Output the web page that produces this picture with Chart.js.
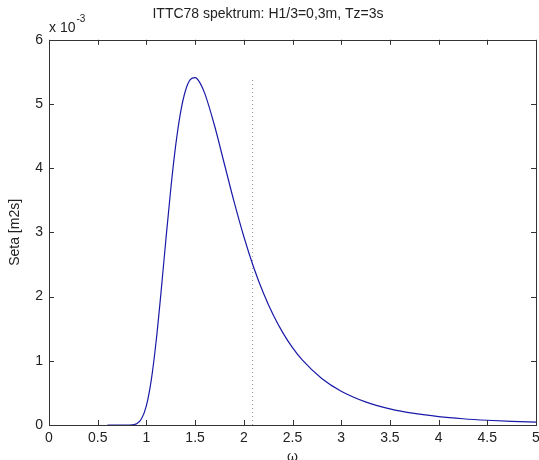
<!DOCTYPE html>
<html>
<head>
<meta charset="utf-8">
<script src="https://cdn.jsdelivr.net/npm/chart.js@4.4.1/dist/chart.umd.min.js"></script>
<style>
  html, body { margin: 0; padding: 0; background: #fff; }
  #wrap { width: 539px; height: 460px; }
</style>
</head>
<body>
<div id="wrap"><canvas id="c" width="539" height="460"></canvas></div>
<script>
/* ─── Data ─── */
const omega = [0.6, 0.7, 0.8, 0.85, 0.9, 0.95, 1.0, 1.05, 1.1, 1.15, 1.2, 1.25, 1.3, 1.35, 1.4, 1.45, 1.5,
  1.55, 1.6, 1.7, 1.8, 1.9, 2.0, 2.1, 2.2, 2.3, 2.4, 2.5, 2.6, 2.8, 3.0, 3.25, 3.5, 3.75, 4.0, 4.25, 4.5, 4.75, 5.0];
// spectral density, units of 1e-3 m2s
const seta = [0, 0, 0.0001, 0.003, 0.021, 0.097, 0.302, 0.700, 1.305, 2.065, 2.887, 3.673, 4.347, 4.862, 5.202, 5.379, 5.411,
  5.330, 5.161, 4.661, 4.069, 3.478, 2.936, 2.462, 2.059, 1.720, 1.439, 1.206, 1.014, 0.725, 0.526, 0.360, 0.252, 0.180, 0.131, 0.0975, 0.0736, 0.0563, 0.0437];
const markerX = [2.09, 2.09];
const markerY = [0, 5.42];
const xTicks = [0, 0.5, 1, 1.5, 2, 2.5, 3, 3.5, 4, 4.5, 5];
const yTicks = [0, 1, 2, 3, 4, 5, 6];

const FONT = "'Liberation Sans', Arial, sans-serif";
const TXT = "#222";

/* ─── Box, inward ticks, exponent label ─── */
const matlabAxes = {
  id: "matlabAxes",
  afterDatasetsDraw(chart) {
    const { ctx, chartArea: a, scales } = chart;
    ctx.save();
    ctx.strokeStyle = "#333";
    ctx.lineWidth = 1;
    ctx.strokeRect(Math.round(a.left) + 0.5, Math.round(a.top) + 0.5,
      Math.round(a.right - a.left), Math.round(a.bottom - a.top));
    const tl = 5;
    ctx.beginPath();
    xTicks.forEach((v) => {
      const px = Math.round(scales.x.getPixelForValue(v)) + 0.5;
      ctx.moveTo(px, a.bottom); ctx.lineTo(px, a.bottom - tl);
      ctx.moveTo(px, a.top); ctx.lineTo(px, a.top + tl);
    });
    yTicks.forEach((v) => {
      const py = Math.round(scales.y.getPixelForValue(v)) + 0.5;
      ctx.moveTo(a.left, py); ctx.lineTo(a.left + tl, py);
      ctx.moveTo(a.right, py); ctx.lineTo(a.right - tl, py);
    });
    ctx.stroke();

    // "x 10^-3" multiplier
    ctx.fillStyle = TXT;
    ctx.textBaseline = "alphabetic";
    ctx.textAlign = "left";
    ctx.font = `14px ${FONT}`;
    ctx.fillText("x 10", a.left, a.top - 8);
    const w = ctx.measureText("x 10").width;
    ctx.font = `10px ${FONT}`;
    ctx.fillText("-3", a.left + w + 1, a.top - 18);
    ctx.restore();
  },
};

new Chart(document.getElementById("c").getContext("2d"), {
  type: "line",
  data: {
    datasets: [
      {
        label: "Seta",
        data: omega.map((x, i) => ({ x, y: seta[i] })),
        borderColor: "#1a1aa8",
        borderWidth: 1.2,
        pointRadius: 0,
        cubicInterpolationMode: "monotone",
        fill: false,
      },
      {
        label: "Tz",
        data: markerX.map((x, i) => ({ x, y: markerY[i] })),
        borderColor: "#999",
        borderWidth: 1,
        borderDash: [1, 3],
        pointRadius: 0,
        fill: false,
      },
    ],
  },
  options: {
    responsive: false,
    animation: false,
    layout: { padding: { left: 0, top: 0, right: 3, bottom: 0 } },
    plugins: {
      legend: { display: false },
      tooltip: { enabled: false },
      title: {
        display: true,
        text: "ITTC78 spektrum: H1/3=0,3m, Tz=3s",
        color: TXT,
        font: { family: FONT, size: 14, weight: "normal" },
        padding: { top: 6, bottom: 17 },
      },
    },
    scales: {
      x: {
        type: "linear",
        min: 0,
        max: 5,
        afterBuildTicks: (s) => { s.ticks = xTicks.map((v) => ({ value: v })); },
        afterFit: (s) => { s.height = 35; s.paddingLeft = 0; s.paddingRight = 0; },
        grid: { display: false, drawTicks: false },
        border: { display: false },
        ticks: { color: TXT, font: { family: FONT, size: 14 }, padding: 5, maxRotation: 0, callback: (v) => String(v) },
        title: { display: true, text: "ω", color: TXT, font: { family: FONT, size: 14 }, padding: { top: 0, bottom: -6 } },
      },
      y: {
        min: 0,
        max: 6,
        afterBuildTicks: (s) => { s.ticks = yTicks.map((v) => ({ value: v })); },
        afterFit: (s) => { s.width = 49; },
        grid: { display: false, drawTicks: false },
        border: { display: false },
        ticks: { color: TXT, font: { family: FONT, size: 14 }, padding: 6, callback: (v) => String(v) },
        title: { display: true, text: "Seta [m2s]", color: TXT, font: { family: FONT, size: 14 }, padding: { top: 7, bottom: 0 } },
      },
    },
  },
  plugins: [matlabAxes],
});
</script>
</body>
</html>
